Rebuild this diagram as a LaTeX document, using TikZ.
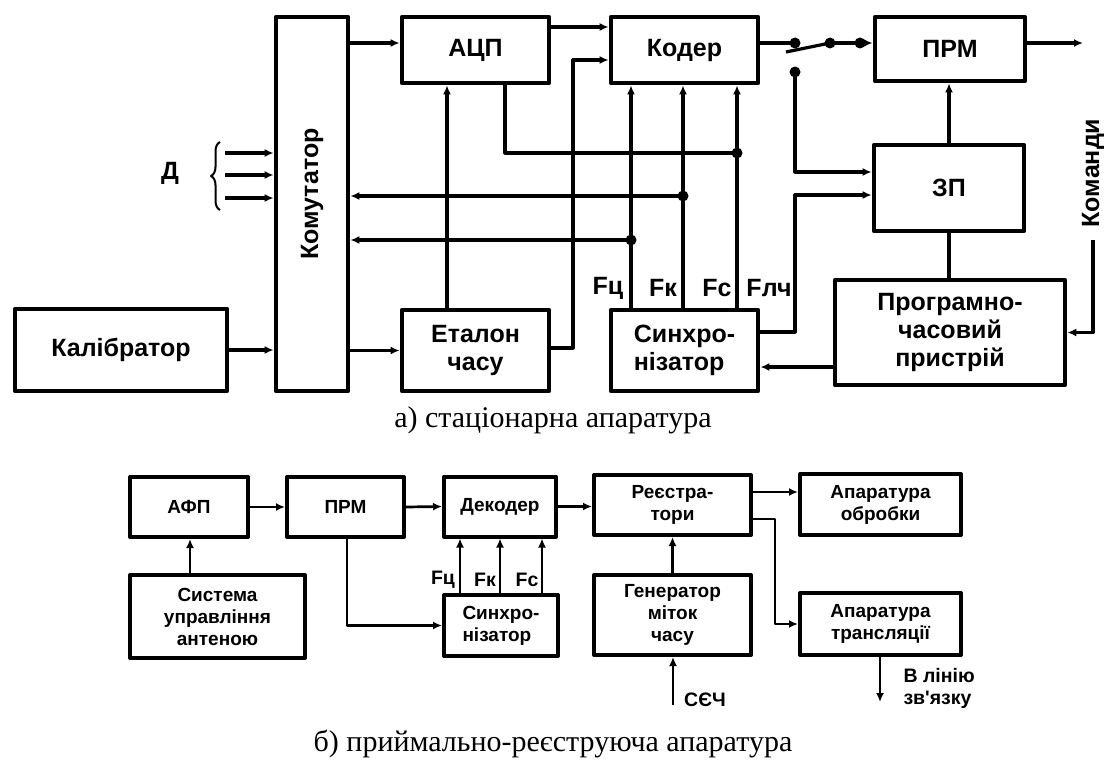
\documentclass[tikz,border=0pt]{standalone}
\usepackage{fontspec}
\setmainfont{Liberation Sans}
\newfontfamily\capfont{Liberation Serif}
\usetikzlibrary{arrows.meta,decorations.pathreplacing}

\begin{document}
\begin{tikzpicture}[x=1pt, y=-1pt, line join=round, >={Latex[length=9pt,width=8pt]},
	blok/.style={draw, line width=4.8pt, inner sep=0pt, align=center, font=\fontsize{25}{28}\selectfont\bfseries},
	malblok/.style={draw, line width=4pt, inner sep=0pt, align=center, font=\fontsize{19}{22}\selectfont\bfseries},
	zv/.style={line width=3.2pt},
	zvm/.style={line width=2.7pt},
	mitka/.style={font=\fontsize{25}{28}\selectfont\bfseries},
	malmitka/.style={font=\fontsize{19.5}{22}\selectfont\bfseries},
	pidpys/.style={font=\fontsize{30}{32}\selectfont\capfont, anchor=base}]
	\useasboundingbox (0,0) rectangle (1106,760);

	% а) стаціонарна апаратура
	\node[blok, minimum width=72, minimum height=374] (kom) at (312,204) {};
	\node[mitka, rotate=90] (komtxt) at (312,194) {Комутатор};
	\node[blok, minimum width=212, minimum height=82] (kal) at (121,350) {Калібратор};
	\node[blok, minimum width=147, minimum height=66] (acp) at (475.5,50) {АЦП};
	\node[blok, minimum width=147, minimum height=66] (koder) at (684.5,50) {Кодер};
	\node[blok, minimum width=147, minimum height=81] (etal) at (475.5,350.5) {Еталон\\часу};
	\node[blok, minimum width=147, minimum height=81, align=left] (sync) at (684.5,350.5) {Синхро-\\нізатор};
	\node[blok, minimum width=150, minimum height=64] (prm) at (950,49) {ПРМ};
	\node[blok, minimum width=150, minimum height=86] (zp) at (949,188) {ЗП};
	\node[blok, minimum width=230, minimum height=105] (prog) at (950,332.5) {Програмно-\\часовий\\пристрій};

	\node[mitka] (dtxt) at (170,173) {Д};
	\draw[line width=2pt, decorate, decoration={brace, amplitude=9pt}] (220,210) -- (220,142);
	\foreach \y [count=\i] in {153,175,198} {
		\coordinate (d\i) at (225,\y);
		\draw[zv,->] (d\i) -- (d\i -| kom.west);
	}

	\coordinate (jc) at (737,153);
	\coordinate (jk) at (683,196);
	\coordinate (jt) at (631,240);
	\coordinate (sw1) at (795,43);
	\coordinate (sw2) at (830,43);
	\coordinate (sw3) at (860,43);
	\coordinate (sw4) at (795,72);
	\coordinate (vyh) at (1083,43);
	\coordinate (kmd) at (1093,240);

	\draw[zv,->] (kom.east |- sw1) -- (acp.west |- sw1);
	\draw[zv,->] (kom.east |- etal.west) -- (etal.west);
	\draw[zv,->] (kal.east) -- (kal.east -| kom.west);
	\draw[zv,->] (acp.east |- 0,27) -- (koder.west |- 0,27);
	\draw[zv,->] (etal.east |- 0,348) -| (573,60) -- (koder.west |- 0,60);
	\draw[zv,->] (etal.north -| 447,0) -- (acp.south -| 447,0);
	\draw[zv] (acp.south -| 505,0) |- (jc);
	\foreach \t in {jt,jk,jc}
		\draw[zv,->] (sync.north -| \t) -- (koder.south -| \t);
	\draw[zv,->] (jk) -- (kom.east |- jk);
	\draw[zv,->] (jt) -- (kom.east |- jt);

	\draw[zv] (koder.east |- sw1) -- (sw1);
	\draw[zv] (sw2) -- ++(-44,9);
	\draw[zv,->] (sw2) -- (prm.west |- sw2);
	\draw[zv,->] (sw4) |- (zp.west |- 0,172);
	\draw[zv,->] (sync.east |- 0,332) -| (795,195) -- (zp.west |- 0,195);
	\draw[zv,->] (zp.north) -- (zp.north |- prm.south);
	\draw[zv] (zp.south) -- (zp.south |- prog.north);
	\draw[zv,->] (prm.east |- vyh) -- (vyh);
	\draw[zv,->] (kmd) |- (prog.east);
	\draw[zv,->] (prog.west |- 0,367) -- (sync.east |- 0,367);
	\foreach \t in {jc,jk,jt,sw1,sw2,sw3,sw4}
		\fill (\t) circle (5.5pt);

	\node[mitka] (fc) at (608,288) {Fц};
	\node[mitka] (fk) at (663,288) {Fк};
	\node[mitka] (fs) at (717,288) {Fс};
	\node[mitka] (flch) at (769,288) {Fлч};
	\node[mitka, rotate=90] (komandy) at (1093,173) {Команди};

	\node[pidpys] (pidpysa) at (553,427) {а) стаціонарна апаратура};

	% б) приймально-реєструюча апаратура
	\node[malblok, minimum width=118, minimum height=60] (afp) at (189,507) {АФП};
	\node[malblok, minimum width=117, minimum height=60] (prm2) at (345.5,507) {ПРМ};
	\node[malblok, minimum width=112, minimum height=60] (dek) at (500,506.5) {Декодер};
	\node[malblok, minimum width=157, minimum height=60] (reg) at (672.5,505) {Реєстра-\\тори};
	\node[malblok, minimum width=161, minimum height=61] (obr) at (880.5,504.5) {Апаратура\\обробки};
	\node[malblok, minimum width=175, minimum height=83] (sys) at (217.5,616.5) {Система\\управління\\антеною};
	\node[malblok, minimum width=114, minimum height=61, align=left] (sync2) at (501,625.5) {Синхро-\\нізатор};
	\node[malblok, minimum width=157, minimum height=80] (gen) at (672.5,615) {Генератор\\міток\\часу};
	\node[malblok, minimum width=161, minimum height=62] (tr) at (880.5,624) {Апаратура\\трансляції};

	\coordinate (sech) at (673,705);
	\coordinate (linia) at (880,702);

	\draw[zvm,->] (afp.east) -- (prm2.west);
	\draw[zvm,->] (prm2.east) -- (dek.west);
	\draw[zvm,->] (dek.east) -- (dek.east -| reg.west);
	\draw[zvm,->] (reg.east |- 0,492) -- (obr.west |- 0,492);
	\draw[zvm,->] (reg.east |- 0,519) -- (775,519) |- (tr.west);
	\draw[zvm,->] (sys.north -| 190,0) -- (afp.south -| 190,0);
	\draw[zvm,->] (prm2.south -| 347,0) |- (sync2.west);
	\foreach \x in {460,500,542}
		\draw[zvm,->] (sync2.north -| \x,0) -- (dek.south -| \x,0);
	\draw[zvm,->] (gen.north) -- (reg.south);
	\draw[zvm,->] (sech) -- (gen.south -| sech);
	\draw[zvm,->] (tr.south -| linia) -- (linia);

	\node[malmitka] (fc2) at (443,580) {Fц};
	\node[malmitka] (fk2) at (485,580) {Fк};
	\node[malmitka] (fs2) at (527,580) {Fс};
	\node[malmitka] (sechtxt) at (705,700) {СЄЧ};
	\node[malmitka, align=left, anchor=west] (liniatxt) at (900,688) {В лінію\\зв\textquotesingle язку};

	\node[pidpys] (pidpysb) at (553,751) {б) приймально-реєструюча апаратура};
\end{tikzpicture}
\end{document}
